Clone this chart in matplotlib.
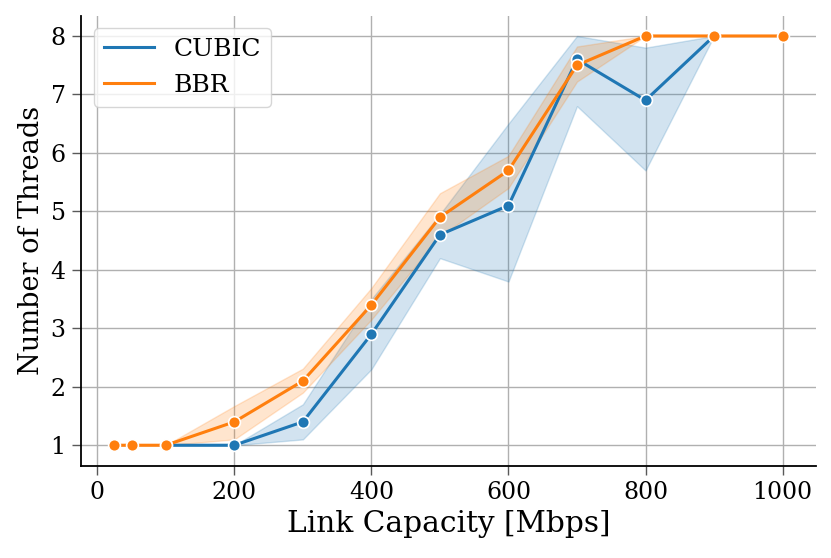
import matplotlib
matplotlib.use("Agg")
import matplotlib.pyplot as plt
import numpy as np

# Data
cubic_x = [100, 200, 300, 400, 500, 600, 700, 800, 900]
cubic_mean = [1.0, 1.0, 1.4, 2.9, 4.6, 5.1, 7.6, 6.9, 8.0]
cubic_lo = [1.0, 1.0, 1.1, 2.3, 4.2, 3.8, 6.8, 5.7, 8.0]
cubic_hi = [1.0, 1.0, 1.7, 3.5, 4.95, 6.5, 8.0, 7.8, 8.0]

bbr_x = [25, 50, 100, 200, 300, 400, 500, 600, 700, 800, 900, 1000]
bbr_mean = [1.0, 1.0, 1.0, 1.4, 2.1, 3.4, 4.9, 5.7, 7.5, 8.0, 8.0, 8.0]
bbr_lo = [1.0, 1.0, 1.0, 1.1, 1.9, 3.15, 4.57, 5.4, 7.22, 8.0, 8.0, 8.0]
bbr_hi = [1.0, 1.0, 1.0, 1.67, 2.31, 3.69, 5.31, 5.95, 7.82, 8.0, 8.0, 8.0]

series_names = ["CUBIC", "BBR"]
colors = ["#1f77b4", "#ff7f0e"]

plt.rcParams['font.family'] = ['DejaVu Serif']

fig = plt.figure(figsize=(8.31, 5.58), dpi=100)
ax = fig.add_axes([81/831, 1 - 465.7/558, (816-81)/831, (465.7-15.5)/558])

ax.grid(True, color="#b0b0b0", linewidth=1.0, zorder=0)
ax.set_axisbelow(True)

for x, m, lo, hi, name, c in [
    (cubic_x, cubic_mean, cubic_lo, cubic_hi, series_names[0], colors[0]),
    (bbr_x, bbr_mean, bbr_lo, bbr_hi, series_names[1], colors[1]),
]:
    ax.fill_between(x, lo, hi, color=c, alpha=0.2, linewidth=1.0, zorder=2)
    ax.plot(x, m, color=c, linewidth=2.2, label=name, zorder=3)
    ax.plot(x, m, color=c, linestyle="none", marker="o", markersize=8.5,
            markeredgecolor="white", markeredgewidth=1.2, zorder=4)

ax.set_xlim(-23.75, 1048.75)
ax.set_ylim(0.65, 8.35)
ax.set_xticks([0, 200, 400, 600, 800, 1000])
ax.set_yticks([1, 2, 3, 4, 5, 6, 7, 8])
ax.tick_params(labelsize=17, length=6.5, width=1, pad=4.5, color="0.35")

ax.spines['top'].set_visible(False)
ax.spines['right'].set_visible(False)
ax.spines['left'].set_linewidth(1.3)
ax.spines['bottom'].set_linewidth(1.3)

ax.set_xlabel("Link Capacity [Mbps]", fontsize=21.3)
ax.set_ylabel("Number of Threads", fontsize=19.5)

ax.legend(loc="upper left", fontsize=18, framealpha=0.8)

fig.savefig("out.png", dpi=100)
